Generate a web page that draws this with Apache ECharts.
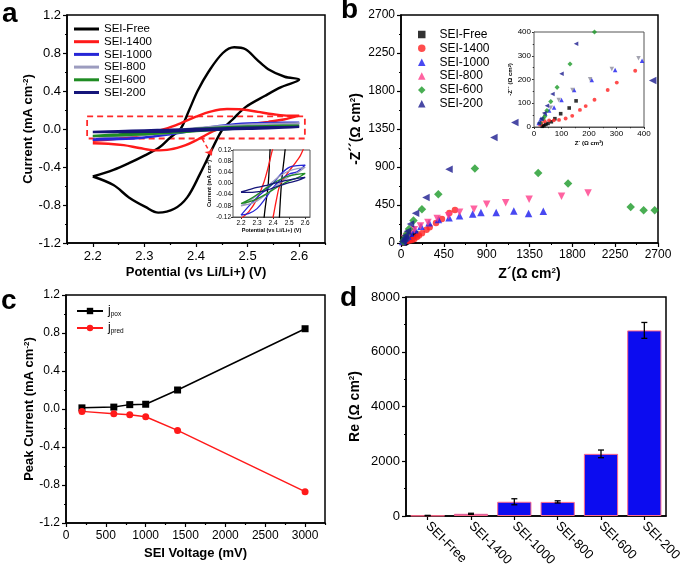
<!DOCTYPE html>
<html><head><meta charset="utf-8">
<script src="https://cdn.jsdelivr.net/npm/echarts@6/dist/echarts.min.js"></script>
<style>html,body{margin:0;padding:0;background:#fff}#c{width:685px;height:576px}</style>
</head><body><div id="c"></div>
<script>
// ---------- Panel a: cyclic voltammograms [potential V, current mA cm-2] ----------
const cvNames = ['SEI-Free','SEI-1400','SEI-1000','SEI-800','SEI-600','SEI-200'];
const cvFree = [[2.20,-0.50],[2.24,-0.43],[2.27,-0.36],[2.30,-0.28],[2.33,-0.19],[2.35,-0.09],[2.37,0.00],[2.386,0.19],[2.403,0.40],[2.424,0.60],[2.452,0.80],[2.474,0.86],[2.496,0.84],[2.518,0.73],[2.54,0.63],[2.572,0.55],[2.60,0.52],[2.565,0.44],[2.534,0.35],[2.496,0.23],[2.471,0.10],[2.452,0.00],[2.434,-0.18],[2.408,-0.47],[2.383,-0.72],[2.358,-0.84],[2.327,-0.88],[2.302,-0.82],[2.27,-0.72],[2.24,-0.59],[2.20,-0.50]];
const cv1400 = [[2.20,-0.125],[2.25,-0.10],[2.30,-0.055],[2.34,0.00],[2.37,0.06],[2.40,0.13],[2.43,0.185],[2.46,0.21],[2.49,0.205],[2.52,0.18],[2.55,0.155],[2.58,0.14],[2.60,0.14],[2.57,0.10],[2.54,0.075],[2.50,0.045],[2.47,0.02],[2.44,-0.01],[2.42,-0.06],[2.40,-0.12],[2.38,-0.17],[2.35,-0.215],[2.32,-0.225],[2.29,-0.20],[2.26,-0.17],[2.23,-0.155],[2.20,-0.15]];
const cv1000 = [[2.20,-0.113],[2.25,-0.08],[2.30,-0.05],[2.35,-0.025],[2.40,0.00],[2.45,0.035],[2.50,0.058],[2.55,0.064],[2.60,0.066],[2.55,0.042],[2.50,0.034],[2.45,0.015],[2.40,-0.015],[2.35,-0.055],[2.30,-0.09],[2.25,-0.107],[2.20,-0.113]];
const cv800 = [[2.20,-0.08],[2.25,-0.063],[2.30,-0.042],[2.35,-0.018],[2.40,0.008],[2.45,0.03],[2.50,0.045],[2.55,0.053],[2.60,0.058],[2.55,0.038],[2.50,0.025],[2.45,0.005],[2.40,-0.018],[2.35,-0.042],[2.30,-0.062],[2.25,-0.074],[2.20,-0.08]];
const cv600 = [[2.20,-0.072],[2.25,-0.058],[2.30,-0.04],[2.35,-0.02],[2.40,0.00],[2.45,0.016],[2.50,0.027],[2.55,0.033],[2.60,0.036],[2.55,0.02],[2.50,0.01],[2.45,-0.005],[2.40,-0.022],[2.35,-0.04],[2.30,-0.055],[2.25,-0.066],[2.20,-0.072]];
const cv200 = [[2.20,-0.03],[2.25,-0.022],[2.30,-0.014],[2.35,-0.008],[2.40,0.00],[2.45,0.007],[2.50,0.013],[2.55,0.018],[2.60,0.022],[2.55,0.01],[2.50,0.003],[2.45,-0.006],[2.40,-0.016],[2.35,-0.026],[2.30,-0.03],[2.25,-0.032],[2.20,-0.032]];
const cvTicks = [2.2,2.3,2.4,2.5,2.6];
const cvMinorTicks = [2.15,2.25,2.35,2.45,2.55,2.65];
const zoomBox = [[2.189,0.132],[2.611,-0.10]];
const zoomArrow = [[2.412,-0.104],[2.431,-0.282]];

// ---------- Panel b: Nyquist plots [Z', -Z''] ----------
const eisFree = [[30,3],[36,6],[43,11],[51,15],[63,22],[76,35],[97,56],[128,80],[153,110]];
const eis1400 = [[22,10],[27,17],[39,24],[55,28],[72,28],[91,30],[115,36],[139,47],[167,72],[188,88],[220,115],[268,156],[301,187],[368,237],[430,285],[508,355],[567,392]];
const eis1000 = [[17,17],[25,35],[41,56],[55,70],[73,82],[100,114],[146,156],[210,198],[295,240],[393,279],[505,300],[615,322],[753,343],[840,360],[1000,360],[1185,380],[1340,350],[1495,375]];
const eis800 = [[38,53],[61,81],[90,114],[140,156],[204,201],[283,244],[380,289],[500,322],[615,363],[766,399],[900,460],[1100,478],[1346,518],[1686,553],[1965,593]];
const eis600 = [[23,17],[33,35],[39,44],[47,69],[61,107],[84,167],[131,265],[220,400],[392,577],[776,881],[1441,830],[1755,704],[2413,427],[2549,387],[2665,387]];
const eis200 = [[18,17],[27,35],[38,59],[47,89],[67,139],[100,224],[153,351],[262,540],[504,874],[976,1249],[1196,1427],[2644,1925]];

// ---------- Panel c: peak currents ----------
const sei_mV = [200,600,800,1000,1400,3000];
const jpox = [0.012,0.02,0.046,0.05,0.20,0.845];
const jpred = [-0.025,-0.05,-0.06,-0.082,-0.225,-0.87];
const cTicks = [0,500,1000,1500,2000,2500,3000];
const cMinorTicks = [250,750,1250,1750,2250,2750,3250];

// ---------- Panel d: Re ----------
const reCategories = ['SEI-Free','SEI-1400','SEI-1000','SEI-800','SEI-600','SEI-200'];
const reValues = [15,80,520,515,2270,6780];
const reErrors = [8,20,110,40,140,290];

const FONT = '"Liberation Sans", Arial, Helvetica, sans-serif';
const cvData = [cvFree,cv1400,cv1000,cv800,cv600,cv200];
const cvColors = ['#000000','#ff1a1a','#2626d6','#9c9cbf','#1f8c23','#16167a'];
const eisData = [eisFree,eis1400,eis1000,eis800,eis600,eis200];
const eisStyle = [
  {symbol:'rect', color:'#000000', size:6, rot:0},
  {symbol:'circle', color:'#ff2020', size:6.5, rot:0},
  {symbol:'triangle', color:'#1a1aee', size:7.5, rot:0},
  {symbol:'triangle', color:'#ff3c8a', size:7.5, rot:180},
  {symbol:'diamond', color:'#1c9a28', size:8.5, rot:0},
  {symbol:'triangle', color:'#1c1c8e', size:7.5, rot:90}
];
const eisInsetColors = ['#000000','#ff2020','#1a1aee','#8c8c9c','#1c9a28','#1c1c8e'];

function vAxis(g, o) {
  return {
    type: o.type || 'value', gridIndex: g, min: o.min, max: o.max, interval: o.interval,
    position: o.position, data: o.data, boundaryGap: o.boundaryGap,
    name: o.name || '', nameLocation: 'middle', nameGap: o.nameGap || 20,
    nameTextStyle: { color:'#000', fontFamily: FONT, fontWeight:'bold', fontSize: o.nameSize || 13, rich: o.rich },
    axisLine: { show: o.showLine !== false, onZero: false, lineStyle: { color: o.lineColor || '#000', width: o.lineWidth || 1.5 } },
    axisTick: { show: o.showTick !== false, length: o.tickLen || 4, alignWithLabel: o.align, customValues: o.tickValues, lineStyle: { color:'#000', width: o.tickWidth || 1.2 } },
    minorTick: { show: !!o.minor, splitNumber: 2, length: o.minorLen || 2, lineStyle: { color:'#000', width: 1 } },
    axisLabel: { show: o.showLabel !== false, color:'#000', fontFamily: FONT, fontSize: o.fontSize || 13, margin: o.margin || 6, customValues: o.labelValues, formatter: o.formatter, rotate: o.rotate, interval: o.labelInterval },
    splitLine: { show: false }
  };
}
function supRich(fs) { return { sup: { fontSize: fs, fontWeight: 'bold', fontFamily: FONT, color: '#000', verticalAlign: 'top', padding: [0,0,Math.round(fs*0.5),0] } }; }

const f1 = v => v.toFixed(1);
const f2 = v => v.toFixed(2);
const f0 = v => String(Math.round(v));

const grid = [
  { left: 67, top: 15, width: 258, height: 228 },
  { left: 233, top: 150, width: 77, height: 67 },
  { left: 401, top: 15, width: 257, height: 228 },
  { left: 534, top: 32, width: 110, height: 95 },
  { left: 66, top: 295, width: 259, height: 228 },
  { left: 406, top: 297, width: 260, height: 219 }
].map((g, i) => Object.assign({ show: true, containLabel: false, borderColor: (i===1||i===3) ? '#555' : '#000', borderWidth: (i===1||i===3) ? 1 : 1.5, backgroundColor: (i===1||i===3) ? '#fff' : 'transparent', z: (i===1||i===3) ? 5 : 0 }, g));

const xAxis = [
  vAxis(0, { min: 2.15, max: 2.65, labelValues: cvTicks, tickValues: cvTicks, formatter: f1, name: 'Potential (vs Li/Li+) (V)', nameGap: 23, margin: 7 }),
  vAxis(0, { min: 2.15, max: 2.65, position: 'bottom', showLine: false, showLabel: false, tickValues: cvMinorTicks, tickLen: 2 }),
  vAxis(1, { min: 2.15, max: 2.63, labelValues: cvTicks, tickValues: cvTicks, formatter: f1, fontSize: 6.5, margin: 3, tickLen: 2, tickWidth: 0.8, lineWidth: 1, lineColor: '#555', name: 'Potential (vs Li/Li+) (V)', nameSize: 5.5, nameGap: 10 }),
  vAxis(2, { min: 0, max: 2700, interval: 450, minor: true, fontSize: 12, formatter: f0, name: 'Z´(Ω cm{sup|2})', nameSize: 14, nameGap: 24, rich: supRich(8), margin: 6 }),
  vAxis(3, { min: 0, max: 400, interval: 100, minor: true, fontSize: 8, formatter: f0, margin: 3, tickLen: 2, minorLen: 1.2, tickWidth: 0.8, lineWidth: 1, lineColor: '#555', name: 'Z´ (Ω cm{sup|2})', nameSize: 6, nameGap: 13, rich: supRich(4) }),
  vAxis(4, { min: 0, max: 3250, labelValues: cTicks, tickValues: cTicks, formatter: f0, fontSize: 12, name: 'SEI Voltage (mV)', nameGap: 24, margin: 7 }),
  vAxis(4, { min: 0, max: 3250, position: 'bottom', showLine: false, showLabel: false, tickValues: cMinorTicks, tickLen: 2 }),
  vAxis(5, { type: 'category', data: reCategories, boundaryGap: true, align: true, rotate: -45, labelInterval: 0, fontSize: 13, margin: 8 })
];
const yAxis = [
  vAxis(0, { min: -1.2, max: 1.2, interval: 0.4, minor: true, formatter: f1, name: 'Current (mA cm{sup|-2})', nameGap: 25, rich: supRich(8) }),
  vAxis(1, { min: -0.12, max: 0.12, interval: 0.04, formatter: f2, fontSize: 6.5, margin: 2, tickLen: 2, tickWidth: 0.8, lineWidth: 1, lineColor: '#555', name: 'Current (mA cm{sup|-2})', nameSize: 5.5, nameGap: 18, rich: supRich(4) }),
  vAxis(2, { min: 0, max: 2700, interval: 450, minor: true, fontSize: 12, formatter: f0, name: '-Z´´(Ω cm{sup|2})', nameSize: 14, nameGap: 38, rich: supRich(8) }),
  vAxis(3, { min: 0, max: 400, interval: 100, minor: true, fontSize: 8, formatter: f0, margin: 3, tickLen: 2, minorLen: 1.2, tickWidth: 0.8, lineWidth: 1, lineColor: '#555', name: '-Z´´ (Ω cm{sup|2})', nameSize: 6, nameGap: 19, rich: supRich(4) }),
  vAxis(4, { min: -1.2, max: 1.2, interval: 0.4, minor: true, formatter: f1, fontSize: 12, name: 'Peak Current (mA cm{sup|-2})', nameGap: 28, rich: supRich(8) }),
  vAxis(5, { min: 0, max: 8000, interval: 2000, minor: true, fontSize: 13, formatter: f0, name: 'Re (Ω cm{sup|2})', nameSize: 14, nameGap: 44, rich: supRich(8) })
];

const series = [];
cvData.forEach((d, i) => {
  const s = { type: 'line', name: 'a:' + cvNames[i], xAxisIndex: 0, yAxisIndex: 0, data: d, symbol: 'none', showSymbol: false, smooth: 0.35,
    lineStyle: { color: cvColors[i], width: 2.4 }, itemStyle: { color: cvColors[i] }, z: 2 + i };
  if (i === 0) {
    s.markArea = { silent: true, itemStyle: { color: 'rgba(0,0,0,0)', borderColor: '#ff2a2a', borderWidth: 1.8, borderType: [6,4] },
      data: [[{ coord: zoomBox[0] }, { coord: zoomBox[1] }]] };
    s.markLine = { silent: true, symbol: ['none', 'arrow'], symbolSize: 7, label: { show: false },
      lineStyle: { color: '#ff2a2a', width: 1.5, type: [4,3] }, data: [[{ coord: zoomArrow[0] }, { coord: zoomArrow[1] }]] };
  }
  series.push(s);
});
cvData.forEach((d, i) => {
  series.push({ type: 'line', name: 'ai:' + cvNames[i], xAxisIndex: 2, yAxisIndex: 1, data: d, symbol: 'none', showSymbol: false, smooth: 0.35, clip: true,
    lineStyle: { color: cvColors[i], width: 1.3 }, z: 10 + i, silent: true });
});
eisData.forEach((d, i) => {
  const st = eisStyle[i];
  series.push({ type: 'scatter', name: 'b:' + cvNames[i], xAxisIndex: 3, yAxisIndex: 2, data: d, symbol: st.symbol, symbolSize: st.size, symbolRotate: st.rot,
    itemStyle: { color: st.color }, z: 2 + i });
  series.push({ type: 'scatter', name: 'bi:' + cvNames[i], xAxisIndex: 4, yAxisIndex: 3, data: d, symbol: st.symbol, symbolSize: st.size * 0.6, symbolRotate: st.rot,
    clip: true, itemStyle: { color: eisInsetColors[i] }, z: 10 + i, silent: true });
});
series.push({ type: 'line', name: 'c:pox', xAxisIndex: 5, yAxisIndex: 4, data: sei_mV.map((v, i) => [v, jpox[i]]), symbol: 'rect', symbolSize: 7,
  lineStyle: { color: '#000', width: 1.5 }, itemStyle: { color: '#000' } });
series.push({ type: 'line', name: 'c:pred', xAxisIndex: 5, yAxisIndex: 4, data: sei_mV.map((v, i) => [v, jpred[i]]), symbol: 'circle', symbolSize: 7,
  lineStyle: { color: '#ff1a1a', width: 1.5 }, itemStyle: { color: '#ff1a1a' } });
series.push({ type: 'bar', name: 'd:Re', xAxisIndex: 7, yAxisIndex: 5, data: reValues, barWidth: '79%',
  itemStyle: { color: '#0c0cf0', borderColor: '#ff6a8a', borderWidth: 1 } });
series.push({ type: 'custom', name: 'd:err', xAxisIndex: 7, yAxisIndex: 5, z: 5,
  data: reValues.map((v, i) => [i, v, reErrors[i]]),
  encode: { x: 0, y: 1 },
  renderItem: function (params, api) {
    const i = api.value(0), v = api.value(1), e = api.value(2);
    const top = api.coord([i, v + e]), bot = api.coord([i, v - e]);
    const w = 3, st = { stroke: '#000', lineWidth: 1.3 };
    return { type: 'group', children: [
      { type: 'line', shape: { x1: top[0], y1: top[1], x2: bot[0], y2: bot[1] }, style: st },
      { type: 'line', shape: { x1: top[0] - w, y1: top[1], x2: top[0] + w, y2: top[1] }, style: st },
      { type: 'line', shape: { x1: bot[0] - w, y1: bot[1], x2: bot[0] + w, y2: bot[1] }, style: st }
    ] };
  } });

const strip = n => n.slice(n.indexOf(':') + 1);
const legend = [
  { orient: 'vertical', left: 69, top: 18, icon: 'rect', itemWidth: 25, itemHeight: 3, itemGap: 0.7, data: cvNames.map(n => 'a:' + n), formatter: strip,
    textStyle: { fontFamily: FONT, fontSize: 11.5, lineHeight: 12, color: '#000' }, selectedMode: false },
  { orient: 'vertical', left: 413, top: 23, itemWidth: 7.5, itemHeight: 7.5, itemGap: 0.86, data: cvNames.map(n => 'b:' + n), formatter: strip,
    textStyle: { fontFamily: FONT, fontSize: 12, lineHeight: 13, color: '#000', padding: [0,0,0,9] }, selectedMode: false },
  { orient: 'vertical', left: 71, top: 299, itemWidth: 26, itemHeight: 8, itemGap: 3, data: ['c:pox', 'c:pred'],
    formatter: n => '{j|j}{s|' + strip(n) + '}',
    textStyle: { fontFamily: FONT, color: '#000', lineHeight: 14, rich: { j: { fontSize: 12, fontFamily: FONT }, s: { fontSize: 6.5, fontFamily: FONT, verticalAlign: 'bottom', padding: [5,0,0,0] } } }, selectedMode: false }
];

const graphic = [
  { type: 'text', left: 2, top: 0, style: { text: 'a', font: 'bold 28px ' + FONT, fill: '#000' } },
  { type: 'text', left: 341, top: -4, style: { text: 'b', font: 'bold 28px ' + FONT, fill: '#000' } },
  { type: 'text', left: 1, top: 287, style: { text: 'c', font: 'bold 28px ' + FONT, fill: '#000' } },
  { type: 'text', left: 340, top: 284, style: { text: 'd', font: 'bold 28px ' + FONT, fill: '#000' } }
];

const chart = echarts.init(document.getElementById('c'), null, { renderer: 'canvas' });
chart.setOption({ animation: false, backgroundColor: '#fff', grid, xAxis, yAxis, series, legend, graphic });
</script></body></html>
